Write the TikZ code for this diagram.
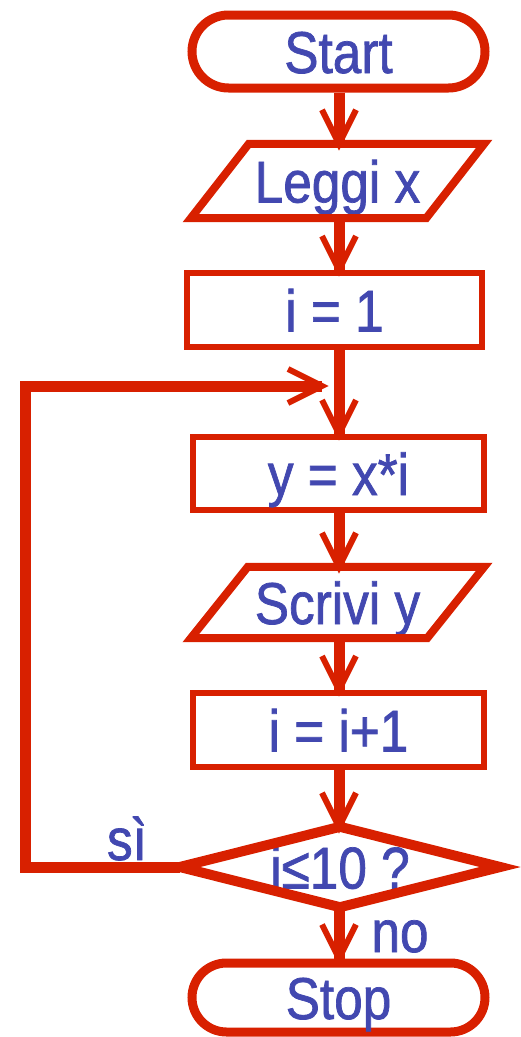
\documentclass[tikz,border=0pt]{standalone}
\usepackage{fontspec}
\setmainfont{Liberation Sans}[FakeStretch=0.87,FakeBold=1.2]
\usetikzlibrary{shapes.misc,calc}
\definecolor{fred}{RGB}{216,32,0}
\definecolor{fblue}{RGB}{66,72,176}
\tikzset{
  txt/.style={text=fblue, font=\fontsize{59}{65}\selectfont, inner sep=0pt, text height=43pt, text depth=0pt},
  term/.style={txt, rounded rectangle, draw=fred, line width=9pt, minimum height=73pt},
  procbox/.style={txt, rectangle, draw=fred, line width=6pt},
  area/.style={txt, rectangle},
  outline/.style={draw=fred, line width=8pt, line join=miter},
  shaft/.style={draw=fred, line width=11pt, line join=miter},
  chev/.style={draw=fred, line width=6pt, line join=miter},
  lbl/.style={text=fblue, font=\fontsize{59}{65}\selectfont, inner sep=0pt, anchor=base},
  chevdown/.pic={\draw[chev] (-17,-34) -- (0,0) -- (17,-34);},
  chevright/.pic={\draw[chev] (-34,-17) -- (0,0) -- (-34,17);},
}
\begin{document}
\begin{tikzpicture}[x=1pt,y=-1pt]
\useasboundingbox (0,0) rectangle (520,1037);
\coordinate (spine) at (339,0);

% nodes
\node[term, minimum width=293pt, minimum height=73pt] (start) at (338.5,51.5) {Start};
\node[area, minimum width=293pt, minimum height=74pt] (leggi) at (337.5,181) {Leggi x};
\node[procbox, minimum width=295pt, minimum height=74pt] (i1) at (334.5,310) {i = 1};
\node[procbox, minimum width=291pt, minimum height=73pt] (yx) at (338.5,473.5) {y = x*i};
\node[area, minimum width=293pt, minimum height=71pt] (scrivi) at (337.5,602.5) {Scrivi y};
\node[procbox, minimum width=291pt, minimum height=74pt] (ii1) at (338.5,730) {i = i+1};
\node[area, minimum width=320pt, minimum height=80pt] (test) at (340,867) {i≤10 ?};
\node[term, minimum width=293pt, minimum height=69pt] (stop) at (338.5,997.5) {Stop};

% parallelograms and diamond
\draw[outline] ($(leggi.north west)+(58,0)$) -- (leggi.north east) -- ($(leggi.south east)+(-58,0)$) -- (leggi.south west) -- cycle;
\draw[outline] ($(scrivi.north west)+(57,0)$) -- (scrivi.north east) -- ($(scrivi.south east)+(-57,0)$) -- (scrivi.south west) -- cycle;
\draw[outline, line width=10pt] (test.west) -- (test.north) -- (test.east) -- (test.south) -- cycle;

% connectors
\draw[shaft] (start.south -| spine) -- (leggi.north -| spine);
\pic at (leggi.north -| spine) {chevdown};
\draw[shaft] (leggi.south -| spine) -- (i1.north -| spine);
\pic at (i1.north -| spine) {chevdown};
\draw[shaft] (i1.south -| spine) -- (yx.north -| spine);
\pic at (yx.north -| spine) {chevdown};
\draw[shaft] (yx.south -| spine) -- (scrivi.north -| spine);
\pic at (scrivi.north -| spine) {chevdown};
\draw[shaft] (scrivi.south -| spine) -- (ii1.north -| spine);
\pic at (ii1.north -| spine) {chevdown};
\draw[shaft] (ii1.south -| spine) -- (test.north -| spine);
\pic at (test.north -| spine) {chevdown};
\draw[shaft] (test.south -| spine) -- (stop.north -| spine);
\pic at (stop.north -| spine) {chevdown};

% loop back
\coordinate (lcorner) at (25.5,386);
\coordinate (looptip) at (322,386);
\draw[shaft] (test.west) -| (lcorner) -- (looptip);
\pic at (looptip) {chevright};

% labels
\node[lbl] (si) at (127,860) {sì};
\node[lbl] (no) at (400,952) {no};
\end{tikzpicture}
\end{document}
